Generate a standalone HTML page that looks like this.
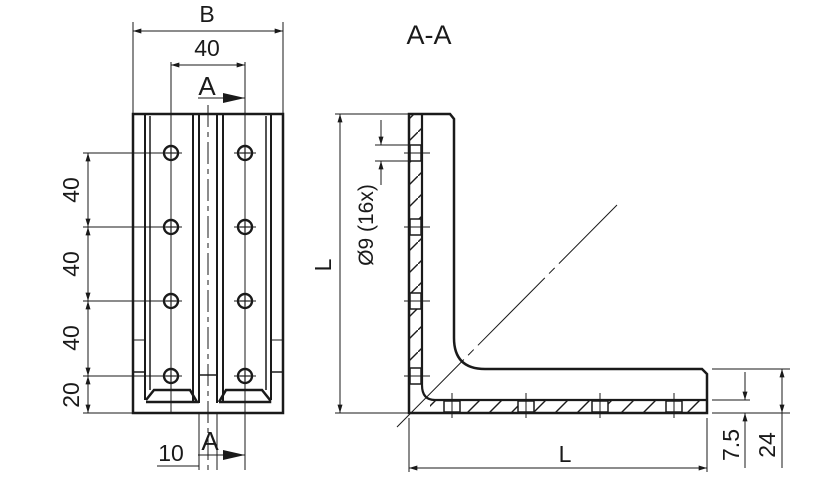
<!DOCTYPE html>
<html><head><meta charset="utf-8"><style>html,body{margin:0;padding:0;background:#fff}svg{display:block}text{font-family:"Liberation Sans",sans-serif;fill:#1a1a1a}</style></head><body>
<svg width="827" height="477" viewBox="0 0 827 477" xmlns="http://www.w3.org/2000/svg">
<defs>
<marker id="a" viewBox="0 0 10 6" refX="10" refY="3" markerWidth="12" markerHeight="5" markerUnits="userSpaceOnUse" orient="auto-start-reverse"><path d="M0,0 L10,3 L0,6z" fill="#1a1a1a"/></marker>
<pattern id="h" width="22" height="22" patternUnits="userSpaceOnUse"><path d="M0,22 L22,0" stroke="#1a1a1a" stroke-width="1.4"/></pattern>
<g id="c"><circle r="7" stroke-width="2.4"/><line x1="-5" y1="0" x2="5" y2="0" stroke-width="1.2"/><line x1="0" y1="-5" x2="0" y2="5" stroke-width="1.2"/></g>
</defs>
<g stroke="#1a1a1a" fill="none">
<!-- left view -->
<rect x="133" y="114" width="150" height="299" stroke-width="2.5"/>
<line x1="145" y1="114" x2="145" y2="400" stroke-width="2"/>
<line x1="271" y1="114" x2="271" y2="400" stroke-width="2"/>
<line x1="150" y1="116" x2="150" y2="390" stroke-width="1.5"/>
<line x1="266" y1="116" x2="266" y2="390" stroke-width="1.5"/>
<line x1="193" y1="114" x2="193" y2="403" stroke-width="2"/>
<line x1="199" y1="114" x2="199" y2="403" stroke-width="2"/>
<line x1="217" y1="114" x2="217" y2="403" stroke-width="2"/>
<line x1="223" y1="114" x2="223" y2="403" stroke-width="2"/>
<path d="M146,400 L154,390 L190,390 L197,402 L146,402" stroke-width="2.5"/>
<path d="M219,402 L226,390 L262,390 L270,400 L270,402 L219,402" stroke-width="2.5"/>
<line x1="199" y1="375" x2="217" y2="375" stroke-width="1.5"/>
<line x1="133" y1="372" x2="145" y2="372" stroke-width="1.5"/>
<line x1="271" y1="372" x2="283" y2="372" stroke-width="1.5"/>
<line x1="133" y1="340" x2="145" y2="340" stroke-width="1"/>
<line x1="271" y1="340" x2="283" y2="340" stroke-width="1"/>
<line x1="208" y1="105" x2="208" y2="470" stroke-width="1" stroke-dasharray="22,5,5,5"/>
<line x1="171" y1="62" x2="171" y2="413" stroke-width="1"/>
<line x1="245" y1="62" x2="245" y2="470" stroke-width="1"/>
<use href="#c" x="171" y="153"/><use href="#c" x="245" y="153"/>
<use href="#c" x="171" y="227"/><use href="#c" x="245" y="227"/>
<use href="#c" x="171" y="301"/><use href="#c" x="245" y="301"/>
<use href="#c" x="171" y="376"/><use href="#c" x="245" y="376"/>
<g stroke-width="1">
<line x1="83" y1="153" x2="182" y2="153"/><line x1="234" y1="153" x2="256" y2="153"/>
<line x1="83" y1="227" x2="182" y2="227"/><line x1="234" y1="227" x2="256" y2="227"/>
<line x1="83" y1="301" x2="182" y2="301"/><line x1="234" y1="301" x2="256" y2="301"/>
<line x1="83" y1="376" x2="182" y2="376"/><line x1="234" y1="376" x2="256" y2="376"/>
<line x1="83" y1="413" x2="133" y2="413"/>
<line x1="88" y1="153" x2="88" y2="227" marker-start="url(#a)" marker-end="url(#a)"/>
<line x1="88" y1="227" x2="88" y2="301" marker-start="url(#a)" marker-end="url(#a)"/>
<line x1="88" y1="301" x2="88" y2="376" marker-start="url(#a)" marker-end="url(#a)"/>
<line x1="88" y1="376" x2="88" y2="413" marker-start="url(#a)" marker-end="url(#a)"/>
<line x1="133" y1="22" x2="133" y2="114"/><line x1="283" y1="22" x2="283" y2="114"/>
<line x1="133" y1="31" x2="283" y2="31" marker-start="url(#a)" marker-end="url(#a)"/>
<line x1="171" y1="65" x2="245" y2="65" marker-start="url(#a)" marker-end="url(#a)"/>
<line x1="198" y1="98" x2="245" y2="98"/>
<line x1="198" y1="455" x2="245" y2="455"/>
<line x1="157" y1="466" x2="199" y2="466"/>
<line x1="199" y1="413" x2="199" y2="470"/>
<line x1="217" y1="413" x2="217" y2="470"/>
</g>
<path d="M223,93 L245,98 L223,103z" fill="#1a1a1a" stroke="none"/>
<path d="M223,450 L245,455 L223,460z" fill="#1a1a1a" stroke="none"/>
<!-- right view -->
<rect x="409" y="114" width="13" height="270" fill="url(#h)" stroke="none"/>
<rect x="430" y="400" width="277" height="13" fill="url(#h)" stroke="none"/>
<path d="M409,114 L450,114 L454,119 L454,338 Q454,369 485,369 L702,369 L707,374 L707,413 L409,413 Z" stroke-width="2.5" fill="none"/>
<line x1="422" y1="114" x2="422" y2="385" stroke-width="2.2"/>
<path d="M422,385 Q422,400 435,400 L707,400" stroke-width="2.2"/>
<g stroke-width="1.5" fill="#fff">
<rect x="410" y="145" width="11" height="16"/><rect x="410" y="219" width="11" height="16"/><rect x="410" y="293" width="11" height="16"/><rect x="410" y="368" width="11" height="16"/>
<rect x="444" y="401" width="16" height="11"/><rect x="518" y="401" width="16" height="11"/><rect x="592" y="401" width="16" height="11"/><rect x="666" y="401" width="16" height="11"/>
</g>
<g stroke-width="1">
<line x1="404" y1="153" x2="430" y2="153"/><line x1="404" y1="227" x2="430" y2="227"/><line x1="404" y1="301" x2="430" y2="301"/><line x1="404" y1="376" x2="430" y2="376"/>
<line x1="452" y1="393" x2="452" y2="418"/><line x1="526" y1="393" x2="526" y2="418"/><line x1="600" y1="393" x2="600" y2="418"/><line x1="674" y1="393" x2="674" y2="418"/>
<line x1="397" y1="427" x2="617" y2="205" stroke-dasharray="95,6,8,6"/>
<line x1="335" y1="114" x2="409" y2="114"/><line x1="335" y1="413" x2="409" y2="413"/>
<line x1="340" y1="114" x2="340" y2="413" marker-start="url(#a)" marker-end="url(#a)"/>
<line x1="375" y1="145" x2="410" y2="145"/><line x1="375" y1="161" x2="410" y2="161"/>
<line x1="381" y1="120" x2="381" y2="145" marker-end="url(#a)"/>
<line x1="381" y1="185" x2="381" y2="161" marker-end="url(#a)"/>
<line x1="409" y1="418" x2="409" y2="472"/><line x1="707" y1="418" x2="707" y2="472"/>
<line x1="409" y1="468" x2="707" y2="468" marker-start="url(#a)" marker-end="url(#a)"/>
<line x1="712" y1="369" x2="790" y2="369"/><line x1="712" y1="400" x2="750" y2="400"/><line x1="712" y1="413" x2="790" y2="413"/>
<line x1="745" y1="372" x2="745" y2="400" marker-end="url(#a)"/>
<line x1="745" y1="468" x2="745" y2="413" marker-end="url(#a)"/>
<line x1="782" y1="369" x2="782" y2="413" marker-start="url(#a)" marker-end="url(#a)"/>
<line x1="782" y1="413" x2="782" y2="468"/>
</g>
</g>
<g font-size="23">
<text x="207" y="22" text-anchor="middle">B</text>
<text x="207" y="56" text-anchor="middle">40</text>
<text x="207" y="95" text-anchor="middle" font-size="26">A</text>
<text x="210" y="450" text-anchor="middle" font-size="26">A</text>
<text x="171" y="461" text-anchor="middle">10</text>
<text x="429" y="44" text-anchor="middle" font-size="27">A-A</text>
<text x="565" y="462" text-anchor="middle">L</text>
<text transform="translate(79,190) rotate(-90)" text-anchor="middle">40</text>
<text transform="translate(79,264) rotate(-90)" text-anchor="middle">40</text>
<text transform="translate(79,338) rotate(-90)" text-anchor="middle">40</text>
<text transform="translate(79,395) rotate(-90)" text-anchor="middle">20</text>
<text transform="translate(331,265) rotate(-90)" text-anchor="middle">L</text>
<text transform="translate(373,225) rotate(-90)" text-anchor="middle" font-size="21">Ø9  (16x)</text>
<text transform="translate(739,445) rotate(-90)" text-anchor="middle">7.5</text>
<text transform="translate(775,445) rotate(-90)" text-anchor="middle">24</text>
</g>
</svg>
</body></html>
